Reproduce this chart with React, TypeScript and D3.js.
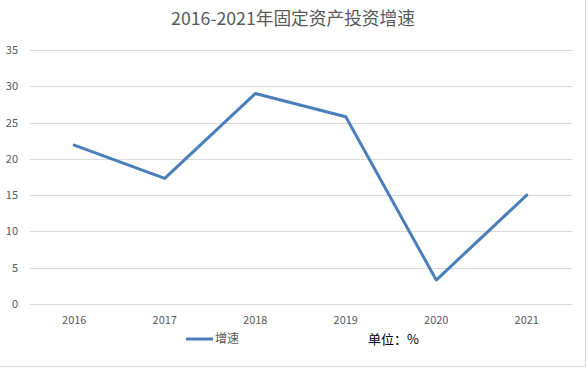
import React from "react";
import * as d3 from "d3";

// data
const years = ["2016", "2017", "2018", "2019", "2020", "2021"];
const growth = [21.9, 17.3, 29.0, 25.8, 3.3, 15.0];
const yTicks = [0, 5, 10, 15, 20, 25, 30, 35];

const W = 588;
const H = 368;
const margin = { top: 50, right: 16, bottom: 64, left: 29 };

export default function App() {
  const x = d3
    .scalePoint<string>()
    .domain(years)
    .range([margin.left, W - margin.right])
    .padding(0.5);
  const y = d3
    .scaleLinear()
    .domain([0, 35])
    .range([H - margin.bottom, margin.top]);

  const line = d3
    .line<number>()
    .x((d, i) => x(years[i]) as number)
    .y((d) => y(d));

  const font = "'Noto Sans CJK SC', 'Noto Sans', sans-serif";

  return (
    <svg
      width={W}
      height={H}
      style={{ position: "absolute", left: 0, top: 0, background: "#fff" }}
    >
      {/* chart border (right & bottom visible) */}
      <line x1={W - 2.5} x2={W - 2.5} y1={0} y2={H - 1.5} stroke="#d9d9d9" />
      <line x1={0} x2={W - 2.5} y1={H - 1.5} y2={H - 1.5} stroke="#d9d9d9" />

      <text
        x={293}
        y={25}
        textAnchor="middle"
        fontFamily={font}
        fontSize={17.7}
        fill="#595959"
      >
        2016-2021年固定资产投资增速
      </text>

      {/* gridlines and y labels */}
      {yTicks.map((t) => (
        <g key={t}>
          <line
            x1={margin.left + 1}
            x2={W - margin.right}
            y1={Math.round(y(t)) + 0.5}
            y2={Math.round(y(t)) + 0.5}
            stroke="#d9d9d9"
          />
          <text
            x={18}
            y={y(t) + 4}
            textAnchor="end"
            fontFamily={font}
            fontSize={11}
            fill="#595959"
          >
            {t}
          </text>
        </g>
      ))}

      {/* x labels */}
      {years.map((yr) => (
        <text
          key={yr}
          x={x(yr)}
          y={324}
          textAnchor="middle"
          fontFamily={font}
          fontSize={11}
          fill="#595959"
        >
          {yr}
        </text>
      ))}

      <path
        d={line(growth) || ""}
        fill="none"
        stroke="#4a7ebb"
        strokeWidth={3}
        strokeLinejoin="round"
        strokeLinecap="round"
      />

      {/* legend */}
      <line x1={186} x2={213} y1={339} y2={339} stroke="#4a7ebb" strokeWidth={3} />
      <text x={215} y={343} fontFamily={font} fontSize={12} fill="#595959">
        增速
      </text>
      <text x={368} y={344} fontFamily={font} fontSize={13} fill="#000">
        单位：%
      </text>
    </svg>
  );
}
